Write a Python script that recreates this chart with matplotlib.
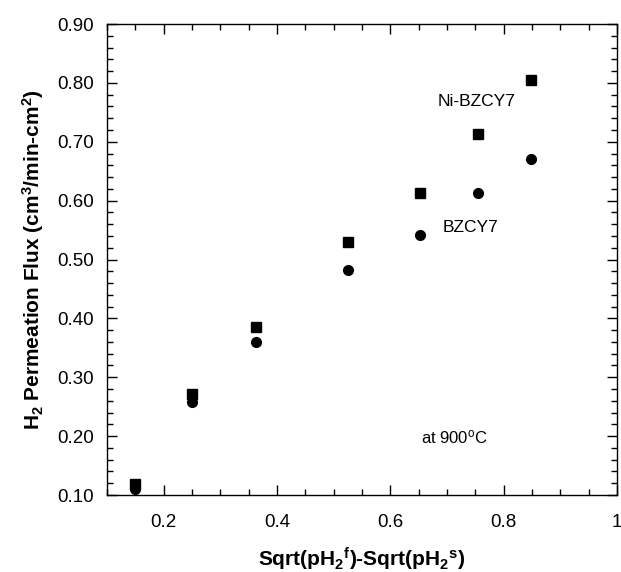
import numpy as np
import matplotlib.pyplot as plt
from matplotlib.ticker import MultipleLocator, FixedLocator, FuncFormatter

plt.rcParams.update({"font.family": ["Liberation Sans", "DejaVu Sans"], "font.size": 12, "mathtext.fontset": "custom",
                     "mathtext.rm": "Liberation Sans", "mathtext.bf": "Liberation Sans:bold", "mathtext.it": "Liberation Sans:italic"})

# data
x_vals = [0.15, 0.25, 0.363, 0.525, 0.652, 0.755, 0.849]
ni_bzcy7 = [0.118, 0.272, 0.385, 0.530, 0.613, 0.713, 0.805]
bzcy7 = [0.110, 0.258, 0.360, 0.482, 0.542, 0.613, 0.670]
x_ticks = [0.2, 0.4, 0.6, 0.8, 1.0]
x_tick_labels = ["0.2", "0.4", "0.6", "0.8", "1"]

fig = plt.figure(figsize=(6.21, 5.72), dpi=100)
ax = fig.add_axes([0.172, 0.1346, 0.8216, 0.8234])
ax.plot(x_vals, ni_bzcy7, ls="none", marker="s", ms=7.5, color="black")
ax.plot(x_vals, bzcy7, ls="none", marker="o", ms=7, color="black")

ax.text(0.752, 0.768, "Ni-BZCY7", ha="center", va="center", fontsize=12.5)
ax.text(0.742, 0.555, "BZCY7", ha="center", va="center", fontsize=12.5)
ax.text(0.713, 0.198, "at 900$^{\\rm o}$C", ha="center", va="center", fontsize=12)

ax.set_xlim(0.1, 1.0)
ax.set_ylim(0.1, 0.9)
ax.xaxis.set_major_locator(FixedLocator(x_ticks))
ax.set_xticklabels(x_tick_labels)
ax.xaxis.set_minor_locator(MultipleLocator(0.05))
ax.yaxis.set_major_locator(MultipleLocator(0.1))
ax.yaxis.set_minor_locator(MultipleLocator(0.02))
ax.yaxis.set_major_formatter(FuncFormatter(lambda v, p: f"{v:.2f}"))
ax.tick_params(which="both", direction="in", top=True, right=True, labelsize=13.5)
ax.tick_params(axis="x", pad=14)
ax.tick_params(axis="y", pad=9)
ax.tick_params(which="major", length=7, width=1)
ax.tick_params(which="minor", length=4, width=1)
for s in ax.spines.values(): s.set_linewidth(1)

ax.set_xlabel("Sqrt(pH$_{\\bf 2}$$^{\\bf f}$)-Sqrt(pH$_{\\bf 2}$$^{\\bf s}$)", fontsize=15, fontweight="bold", labelpad=10)
ax.set_ylabel("H$_{\\bf 2}$ Permeation Flux (cm$^{\\bf 3}$/min-cm$^{\\bf 2}$)", fontsize=15, fontweight="bold", labelpad=8)

fig.savefig("out.png", dpi=100)
